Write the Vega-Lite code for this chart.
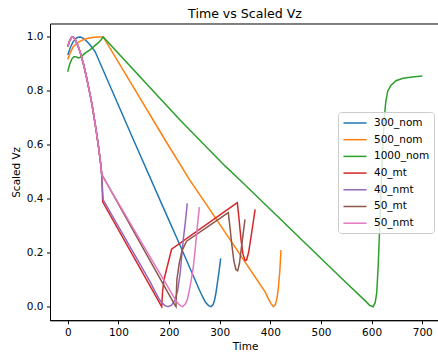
{
  "$schema": "https://vega.github.io/schema/vega-lite/v6.json",
  "width": 390,
  "height": 296.7,
  "autosize": "none",
  "padding": {"left": 50, "top": 23.5, "right": 0, "bottom": 36},
  "background": "white",
  "config": {
    "font": "DejaVu Sans",
    "view": {"stroke": "black", "strokeWidth": 1},
    "axis": {"grid": false, "domainColor": "black", "tickColor": "black", "labelColor": "black", "titleColor": "black", "labelFontSize": 10.5, "titleFontSize": 10.5, "titleFontWeight": "normal", "tickSize": 3.5, "labelPadding": 3.5, "labelFont": "DejaVu Sans", "titleFont": "DejaVu Sans"}
  },
  "title": {"text": "Time vs Scaled Vz", "fontSize": 12.6, "fontWeight": "normal", "font": "DejaVu Sans", "color": "black", "anchor": "middle", "offset": 3},
  "datasets": {
    "d": [
      {"series": "300_nom", "t": 0, "v": 0.933},
      {"series": "300_nom", "t": 5, "v": 0.96},
      {"series": "300_nom", "t": 10, "v": 0.98},
      {"series": "300_nom", "t": 15, "v": 0.993},
      {"series": "300_nom", "t": 20, "v": 0.999},
      {"series": "300_nom", "t": 25, "v": 1.0},
      {"series": "300_nom", "t": 30, "v": 0.996},
      {"series": "300_nom", "t": 36, "v": 0.987},
      {"series": "300_nom", "t": 42, "v": 0.975},
      {"series": "300_nom", "t": 48, "v": 0.961},
      {"series": "300_nom", "t": 54, "v": 0.946},
      {"series": "300_nom", "t": 129.5, "v": 0.62},
      {"series": "300_nom", "t": 190.7, "v": 0.359},
      {"series": "300_nom", "t": 221.7, "v": 0.228},
      {"series": "300_nom", "t": 260, "v": 0.062},
      {"series": "300_nom", "t": 266, "v": 0.038},
      {"series": "300_nom", "t": 272, "v": 0.016},
      {"series": "300_nom", "t": 278, "v": 0.004},
      {"series": "300_nom", "t": 283, "v": 0.0},
      {"series": "300_nom", "t": 287, "v": 0.008},
      {"series": "300_nom", "t": 290, "v": 0.025},
      {"series": "300_nom", "t": 293, "v": 0.055},
      {"series": "300_nom", "t": 296, "v": 0.095},
      {"series": "300_nom", "t": 299, "v": 0.135},
      {"series": "300_nom", "t": 302, "v": 0.179},

      {"series": "500_nom", "t": 0, "v": 0.917},
      {"series": "500_nom", "t": 5, "v": 0.942},
      {"series": "500_nom", "t": 11, "v": 0.964},
      {"series": "500_nom", "t": 20, "v": 0.98},
      {"series": "500_nom", "t": 31, "v": 0.99},
      {"series": "500_nom", "t": 40, "v": 0.995},
      {"series": "500_nom", "t": 50, "v": 0.998},
      {"series": "500_nom", "t": 60, "v": 1.0},
      {"series": "500_nom", "t": 70, "v": 1.0},
      {"series": "500_nom", "t": 130, "v": 0.813},
      {"series": "500_nom", "t": 192, "v": 0.619},
      {"series": "500_nom", "t": 241, "v": 0.469},
      {"series": "500_nom", "t": 281, "v": 0.359},
      {"series": "500_nom", "t": 340, "v": 0.194},
      {"series": "500_nom", "t": 390, "v": 0.054},
      {"series": "500_nom", "t": 396, "v": 0.03},
      {"series": "500_nom", "t": 401, "v": 0.012},
      {"series": "500_nom", "t": 406, "v": 0.0},
      {"series": "500_nom", "t": 410, "v": 0.008},
      {"series": "500_nom", "t": 413, "v": 0.03},
      {"series": "500_nom", "t": 416, "v": 0.07},
      {"series": "500_nom", "t": 419, "v": 0.14},
      {"series": "500_nom", "t": 421, "v": 0.21},

      {"series": "1000_nom", "t": 0, "v": 0.871},
      {"series": "1000_nom", "t": 4, "v": 0.9},
      {"series": "1000_nom", "t": 8, "v": 0.918},
      {"series": "1000_nom", "t": 12, "v": 0.927},
      {"series": "1000_nom", "t": 16, "v": 0.927},
      {"series": "1000_nom", "t": 21, "v": 0.922},
      {"series": "1000_nom", "t": 26, "v": 0.925},
      {"series": "1000_nom", "t": 34, "v": 0.94},
      {"series": "1000_nom", "t": 44, "v": 0.952},
      {"series": "1000_nom", "t": 52, "v": 0.965},
      {"series": "1000_nom", "t": 60, "v": 0.978},
      {"series": "1000_nom", "t": 66, "v": 0.99},
      {"series": "1000_nom", "t": 70, "v": 1.0},
      {"series": "1000_nom", "t": 221.7, "v": 0.692},
      {"series": "1000_nom", "t": 310.5, "v": 0.522},
      {"series": "1000_nom", "t": 340, "v": 0.47},
      {"series": "1000_nom", "t": 537.5, "v": 0.111},
      {"series": "1000_nom", "t": 590, "v": 0.017},
      {"series": "1000_nom", "t": 596, "v": 0.005},
      {"series": "1000_nom", "t": 603, "v": 0.0},
      {"series": "1000_nom", "t": 607, "v": 0.015},
      {"series": "1000_nom", "t": 610, "v": 0.05},
      {"series": "1000_nom", "t": 613, "v": 0.15},
      {"series": "1000_nom", "t": 616, "v": 0.3},
      {"series": "1000_nom", "t": 619, "v": 0.45},
      {"series": "1000_nom", "t": 622, "v": 0.6},
      {"series": "1000_nom", "t": 625, "v": 0.7},
      {"series": "1000_nom", "t": 628, "v": 0.76},
      {"series": "1000_nom", "t": 632, "v": 0.8},
      {"series": "1000_nom", "t": 638, "v": 0.82},
      {"series": "1000_nom", "t": 648, "v": 0.838},
      {"series": "1000_nom", "t": 662, "v": 0.847},
      {"series": "1000_nom", "t": 680, "v": 0.852},
      {"series": "1000_nom", "t": 700, "v": 0.855},

      {"series": "40_mt", "t": 0, "v": 0.965},
      {"series": "40_mt", "t": 4, "v": 0.988},
      {"series": "40_mt", "t": 8, "v": 0.999},
      {"series": "40_mt", "t": 11, "v": 1.0},
      {"series": "40_mt", "t": 15, "v": 0.99},
      {"series": "40_mt", "t": 20, "v": 0.968},
      {"series": "40_mt", "t": 26, "v": 0.935},
      {"series": "40_mt", "t": 31, "v": 0.9},
      {"series": "40_mt", "t": 36, "v": 0.86},
      {"series": "40_mt", "t": 41, "v": 0.815},
      {"series": "40_mt", "t": 46, "v": 0.77},
      {"series": "40_mt", "t": 51, "v": 0.715},
      {"series": "40_mt", "t": 56, "v": 0.655},
      {"series": "40_mt", "t": 61, "v": 0.59},
      {"series": "40_mt", "t": 65, "v": 0.53},
      {"series": "40_mt", "t": 67, "v": 0.49},
      {"series": "40_mt", "t": 68, "v": 0.44},
      {"series": "40_mt", "t": 69, "v": 0.389},
      {"series": "40_mt", "t": 185.5, "v": 0.0},
      {"series": "40_mt", "t": 187, "v": 0.05},
      {"series": "40_mt", "t": 190, "v": 0.1},
      {"series": "40_mt", "t": 205, "v": 0.213},
      {"series": "40_mt", "t": 334.8, "v": 0.386},
      {"series": "40_mt", "t": 338, "v": 0.33},
      {"series": "40_mt", "t": 342, "v": 0.25},
      {"series": "40_mt", "t": 346, "v": 0.195},
      {"series": "40_mt", "t": 350, "v": 0.172},
      {"series": "40_mt", "t": 353, "v": 0.173},
      {"series": "40_mt", "t": 357, "v": 0.2},
      {"series": "40_mt", "t": 362, "v": 0.26},
      {"series": "40_mt", "t": 366, "v": 0.31},
      {"series": "40_mt", "t": 370, "v": 0.361},

      {"series": "40_nmt", "t": 0, "v": 0.965},
      {"series": "40_nmt", "t": 4, "v": 0.988},
      {"series": "40_nmt", "t": 8, "v": 0.999},
      {"series": "40_nmt", "t": 11, "v": 1.0},
      {"series": "40_nmt", "t": 15, "v": 0.99},
      {"series": "40_nmt", "t": 20, "v": 0.968},
      {"series": "40_nmt", "t": 26, "v": 0.935},
      {"series": "40_nmt", "t": 31, "v": 0.9},
      {"series": "40_nmt", "t": 36, "v": 0.86},
      {"series": "40_nmt", "t": 41, "v": 0.815},
      {"series": "40_nmt", "t": 46, "v": 0.77},
      {"series": "40_nmt", "t": 51, "v": 0.715},
      {"series": "40_nmt", "t": 56, "v": 0.655},
      {"series": "40_nmt", "t": 61, "v": 0.59},
      {"series": "40_nmt", "t": 65, "v": 0.53},
      {"series": "40_nmt", "t": 67, "v": 0.49},
      {"series": "40_nmt", "t": 68.5, "v": 0.44},
      {"series": "40_nmt", "t": 70, "v": 0.396},
      {"series": "40_nmt", "t": 162.5, "v": 0.093},
      {"series": "40_nmt", "t": 172, "v": 0.058},
      {"series": "40_nmt", "t": 180, "v": 0.03},
      {"series": "40_nmt", "t": 186, "v": 0.014},
      {"series": "40_nmt", "t": 192, "v": 0.004},
      {"series": "40_nmt", "t": 198, "v": 0.0},
      {"series": "40_nmt", "t": 205, "v": 0.006},
      {"series": "40_nmt", "t": 212, "v": 0.025},
      {"series": "40_nmt", "t": 217, "v": 0.06},
      {"series": "40_nmt", "t": 222, "v": 0.124},
      {"series": "40_nmt", "t": 228, "v": 0.247},
      {"series": "40_nmt", "t": 232, "v": 0.31},
      {"series": "40_nmt", "t": 236, "v": 0.383},

      {"series": "50_mt", "t": 0, "v": 0.965},
      {"series": "50_mt", "t": 4, "v": 0.988},
      {"series": "50_mt", "t": 8, "v": 0.999},
      {"series": "50_mt", "t": 11, "v": 1.0},
      {"series": "50_mt", "t": 15, "v": 0.99},
      {"series": "50_mt", "t": 20, "v": 0.968},
      {"series": "50_mt", "t": 26, "v": 0.935},
      {"series": "50_mt", "t": 31, "v": 0.9},
      {"series": "50_mt", "t": 36, "v": 0.86},
      {"series": "50_mt", "t": 41, "v": 0.815},
      {"series": "50_mt", "t": 46, "v": 0.77},
      {"series": "50_mt", "t": 51, "v": 0.715},
      {"series": "50_mt", "t": 56, "v": 0.655},
      {"series": "50_mt", "t": 61, "v": 0.59},
      {"series": "50_mt", "t": 65, "v": 0.53},
      {"series": "50_mt", "t": 67.5, "v": 0.49},
      {"series": "50_mt", "t": 162.5, "v": 0.171},
      {"series": "50_mt", "t": 207, "v": 0.022},
      {"series": "50_mt", "t": 211, "v": 0.008},
      {"series": "50_mt", "t": 213.8, "v": 0.0},
      {"series": "50_mt", "t": 214.5, "v": 0.05},
      {"series": "50_mt", "t": 215.5, "v": 0.1},
      {"series": "50_mt", "t": 220, "v": 0.16},
      {"series": "50_mt", "t": 226, "v": 0.21},
      {"series": "50_mt", "t": 234.7, "v": 0.243},
      {"series": "50_mt", "t": 317, "v": 0.349},
      {"series": "50_mt", "t": 320, "v": 0.3},
      {"series": "50_mt", "t": 324, "v": 0.23},
      {"series": "50_mt", "t": 328, "v": 0.17},
      {"series": "50_mt", "t": 332, "v": 0.138},
      {"series": "50_mt", "t": 335.5, "v": 0.133},
      {"series": "50_mt", "t": 339, "v": 0.16},
      {"series": "50_mt", "t": 343, "v": 0.22},
      {"series": "50_mt", "t": 347, "v": 0.28},
      {"series": "50_mt", "t": 350, "v": 0.324},

      {"series": "50_nmt", "t": 0, "v": 0.965},
      {"series": "50_nmt", "t": 4, "v": 0.988},
      {"series": "50_nmt", "t": 8, "v": 0.999},
      {"series": "50_nmt", "t": 11, "v": 1.0},
      {"series": "50_nmt", "t": 15, "v": 0.99},
      {"series": "50_nmt", "t": 20, "v": 0.968},
      {"series": "50_nmt", "t": 26, "v": 0.935},
      {"series": "50_nmt", "t": 31, "v": 0.9},
      {"series": "50_nmt", "t": 36, "v": 0.86},
      {"series": "50_nmt", "t": 41, "v": 0.815},
      {"series": "50_nmt", "t": 46, "v": 0.77},
      {"series": "50_nmt", "t": 51, "v": 0.715},
      {"series": "50_nmt", "t": 56, "v": 0.655},
      {"series": "50_nmt", "t": 61, "v": 0.59},
      {"series": "50_nmt", "t": 65, "v": 0.53},
      {"series": "50_nmt", "t": 67, "v": 0.49},
      {"series": "50_nmt", "t": 162.5, "v": 0.185},
      {"series": "50_nmt", "t": 205, "v": 0.05},
      {"series": "50_nmt", "t": 212, "v": 0.027},
      {"series": "50_nmt", "t": 218, "v": 0.012},
      {"series": "50_nmt", "t": 223, "v": 0.003},
      {"series": "50_nmt", "t": 227, "v": 0.0},
      {"series": "50_nmt", "t": 232, "v": 0.01},
      {"series": "50_nmt", "t": 236, "v": 0.025},
      {"series": "50_nmt", "t": 240, "v": 0.06},
      {"series": "50_nmt", "t": 244, "v": 0.1},
      {"series": "50_nmt", "t": 248, "v": 0.148},
      {"series": "50_nmt", "t": 251, "v": 0.2},
      {"series": "50_nmt", "t": 254.6, "v": 0.272},
      {"series": "50_nmt", "t": 257, "v": 0.32},
      {"series": "50_nmt", "t": 260, "v": 0.369}
    ]
  },
  "data": {"name": "d"},
  "mark": {"type": "line", "strokeWidth": 1.5, "clip": true, "interpolate": "linear"},
  "encoding": {
    "x": {"field": "t", "type": "quantitative", "scale": {"domain": [-35, 735], "nice": false, "zero": false},
      "axis": {"title": "Time", "values": [0, 100, 200, 300, 400, 500, 600, 700], "format": "d", "titlePadding": 4}},
    "y": {"field": "v", "type": "quantitative", "scale": {"domain": [-0.05, 1.05], "nice": false, "zero": false},
      "axis": {"title": "Scaled Vz", "values": [0, 0.2, 0.4, 0.6, 0.8, 1.0], "format": ".1f", "titlePadding": 5}},
    "color": {"field": "series", "type": "nominal",
      "scale": {"domain": ["300_nom", "500_nom", "1000_nom", "40_mt", "40_nmt", "50_mt", "50_nmt"],
        "range": ["#1f77b4", "#ff7f0e", "#2ca02c", "#d62728", "#9467bd", "#8c564b", "#e377c2"]},
      "legend": {"title": null, "orient": "none", "legendX": 288, "legendY": 88.5, "symbolType": "M-2,0H2", "symbolStrokeWidth": 1.5, "symbolSize": 133, "symbolOffset": 6, "labelFontSize": 10.5, "labelColor": "black", "labelFont": "DejaVu Sans", "fillColor": "rgba(255,255,255,0.8)", "strokeColor": "#cccccc", "cornerRadius": 3, "padding": 4, "rowPadding": 3.7, "labelOffset": 12}},
    "order": {"field": "t", "type": "quantitative"}
  }
}
